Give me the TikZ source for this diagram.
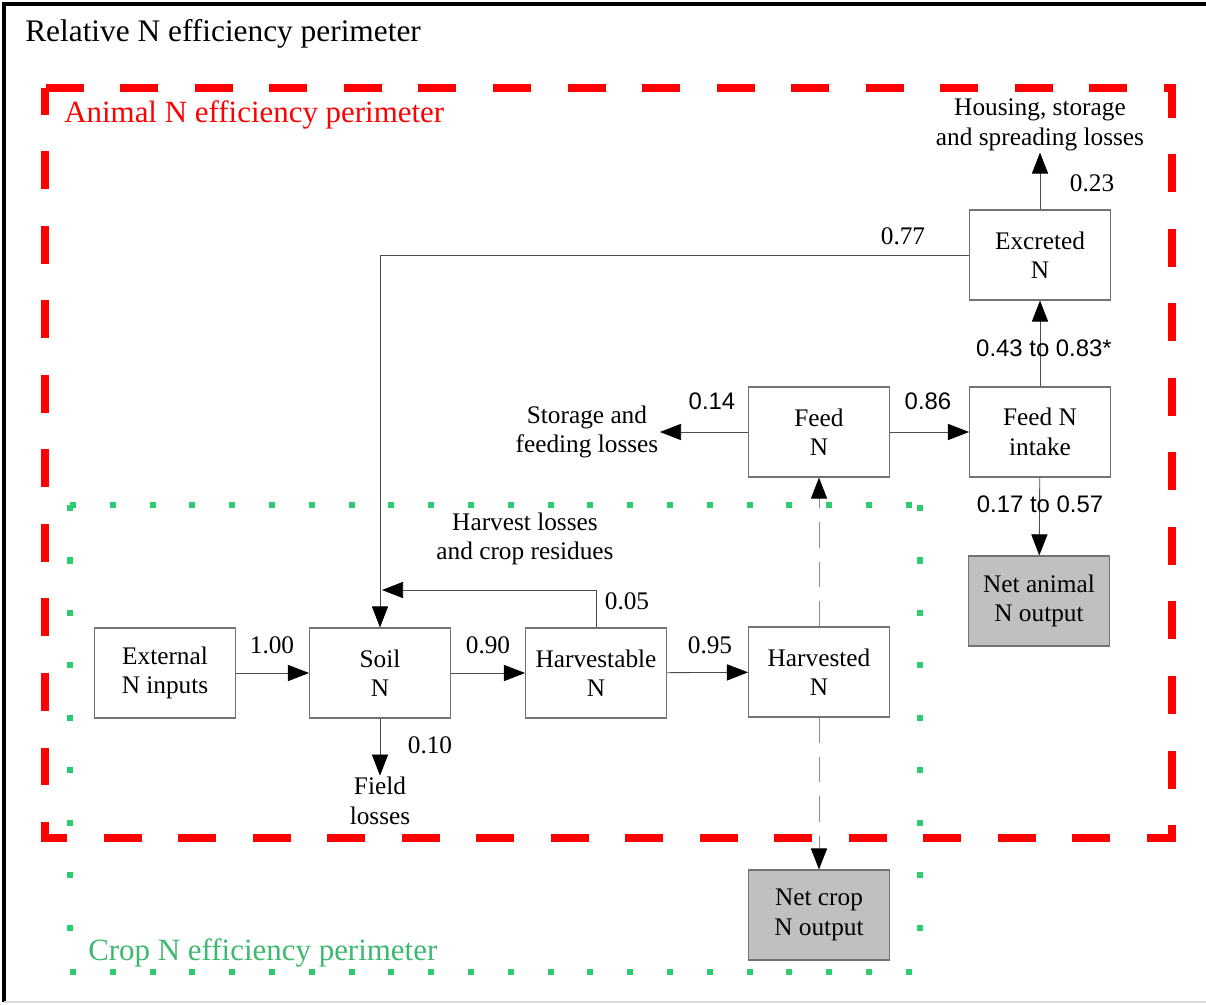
\documentclass[tikz,border=0pt]{standalone}
\usepackage{fontspec}
\setmainfont{Liberation Serif}
\newfontfamily\numfont{Liberation Sans}
\usetikzlibrary{arrows.meta}

\definecolor{perimred}{RGB}{255,0,0}
\definecolor{perimgreen}{RGB}{46,204,113}
\definecolor{labelgreen}{RGB}{60,185,110}
\definecolor{netgray}{RGB}{192,192,192}
\definecolor{edgegray}{RGB}{115,115,115}

\tikzset{
  box/.style={draw=edgegray, line width=0.8pt, rectangle, minimum width=3.52cm, minimum height=2.25cm, align=center, inner sep=0pt},
  netbox/.style={box, fill=netgray},
  flow/.style={-{Triangle[length=15pt,width=11.5pt,black]}, draw=black!70, line width=0.6pt},
  dashflow/.style={flow, draw=black!45, dash pattern=on 18pt off 10pt},
  txt/.style={align=center, inner sep=1pt},
}

\begin{document}
\begin{tikzpicture}[x=0.025cm, y=-0.025cm, font=\fontsize{18}{21}\selectfont]
    \useasboundingbox (0,0) rectangle (1206,1005);

    % Outer frame
    \draw[line width=3pt] (1206,4) -- (4,4) -- (4,1002);
    \draw[black!15, line width=1.5pt] (4,1002) -- (1206,1002);
    \node[anchor=west, inner sep=0pt, font=\fontsize{22.3}{26}\selectfont] (relative) at (25,34) {Relative N efficiency perimeter};

    % Perimeters
    \draw[perimred, line width=5pt, dash pattern=on 27pt off 26pt, dash phase=8pt] (45,88) rectangle (1172,838);
    \node[anchor=west, inner sep=0pt, text=perimred, font=\fontsize{22}{26}\selectfont] (animalper) at (64,115) {Animal N efficiency perimeter};
    \draw[perimgreen, line width=4.3pt, dash pattern=on 4.3pt off 24pt] (70,505) -- (920,505) (70,972) -- (920,972);
    \draw[perimgreen, line width=4.3pt, dash pattern=on 4.3pt off 33pt] (70,505) -- (70,972) (920,505) -- (920,972);
    \node[anchor=west, inner sep=0pt, text=labelgreen, font=\fontsize{22}{26}\selectfont] (cropper) at (88,953) {Crop N efficiency perimeter};

    % Crop boxes
    \node[box] (external) at (165,673) {External\\N inputs};
    \node[box] (soil) at (380,673) {Soil\\N};
    \node[box] (harvestable) at (596,673) {Harvestable\\N};
    \node[box] (harvested) at (819,672) {Harvested\\N};
    \node[netbox] (netcrop) at (819,915) {Net crop\\N output};

    % Animal boxes
    \node[box] (feed) at (819,432) {Feed\\N};
    \node[box] (intake) at (1040,432) {Feed N\\intake};
    \node[box] (excreted) at (1040,255) {Excreted\\N};
    \node[netbox] (netanimal) at (1039,601) {Net animal\\N output};

    % Loss texts
    \node[txt] (field) at (380,801) {Field\\losses};
    \node[txt] (residues) at (525,539) {Harvest losses\\and crop residues};
    \node[txt, anchor=east] (storage) at (660,432) {Storage and\\feeding losses};
    \node[txt] (housing) at (1040,125) {Housing, storage\\and spreading losses};
    \coordinate (soilret) at (382,590);

    % Crop flows
    \draw[flow] (external) -- (soil);
    \draw[flow] (soil) -- (harvestable);
    \draw[flow] (harvestable) -- (harvested);
    \draw[flow] (soil.south) -- (field.north);
    \draw[flow] (harvestable.north) |- (soilret);
    \draw[dashflow] (harvested.north) -- (feed.south);
    \draw[dashflow] (harvested.south) -- (netcrop.north);

    % Animal flows
    \draw[flow] (feed.west) -- (storage.east);
    \draw[flow] (feed) -- (intake);
    \draw[flow] (intake) -- (excreted);
    \draw[flow] (excreted.north) -- (housing.south);
    \draw[flow] (intake) -- (netanimal);
    \draw[flow] (excreted.west) -| (soil.north);

    % Flow values
    \node (v100) at (272,645) {1.00};
    \node (v090) at (488,645) {0.90};
    \node (v095) at (710,645) {0.95};
    \node (v010) at (430,745) {0.10};
    \node (v005) at (627,601) {0.05};
    \node (v077) at (903,236) {0.77};
    \node (v023) at (1092,183) {0.23};
    \node[font=\numfont\fontsize{17}{20}\selectfont] (v014) at (712,401) {0.14};
    \node[font=\numfont\fontsize{17}{20}\selectfont] (v086) at (928,401) {0.86};
    \node[font=\numfont\fontsize{17}{20}\selectfont] (vexcr) at (1044,348) {0.43 to 0.83*};
    \node[font=\numfont\fontsize{17}{20}\selectfont] (vnet) at (1040,504) {0.17 to 0.57};
\end{tikzpicture}
\end{document}
